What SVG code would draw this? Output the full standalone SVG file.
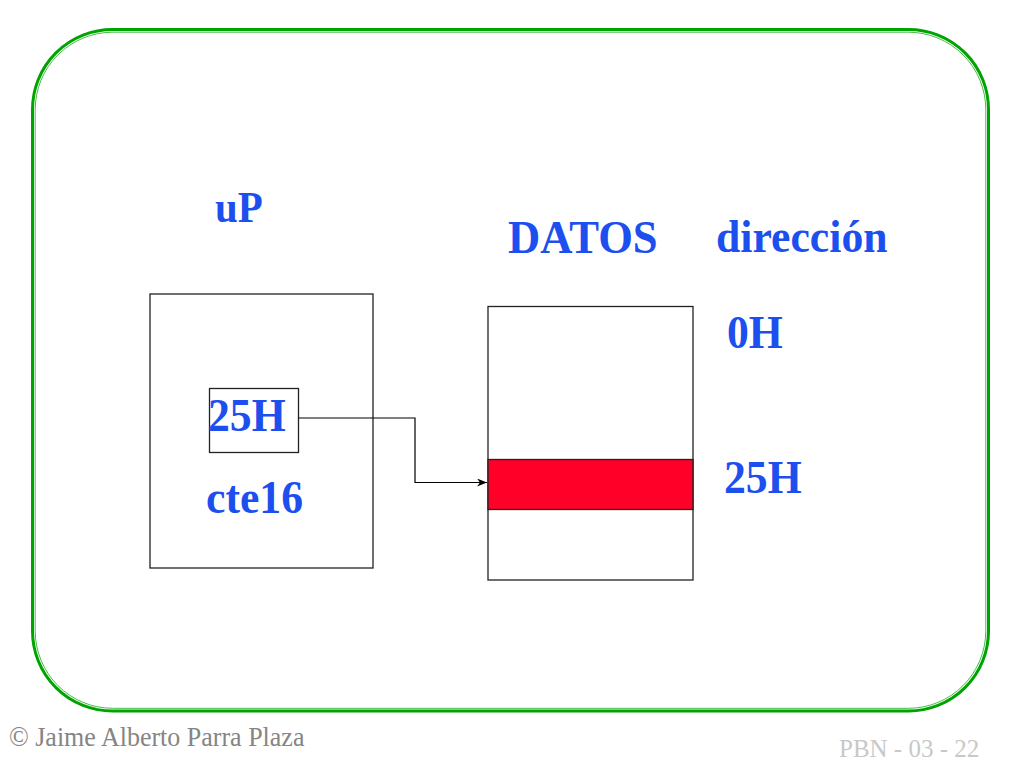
<svg xmlns="http://www.w3.org/2000/svg" width="1024" height="768" viewBox="0 0 1024 768">
<style>
.lbl{font-family:"Liberation Serif","Times New Roman",serif;font-weight:bold;fill:#1d4fee;font-size:47px}
.box{fill:none;stroke:#222;stroke-width:1.3}
.conn{fill:none;stroke:#000;stroke-width:1.2}
.foot{font-family:"Liberation Serif","Times New Roman",serif;font-size:25px}
</style>
<defs>
<marker id="arr" viewBox="0 0 10 8" refX="10" refY="4" markerWidth="10" markerHeight="8" markerUnits="userSpaceOnUse" orient="auto">
<path d="M0,0 L10,4 L0,8 L3,4 Z" fill="#000"/>
</marker>
</defs>
<rect width="1024" height="768" fill="#fff"/>
<g id="frame">
<rect x="32.5" y="29.5" width="956" height="681.5" rx="80" ry="80" fill="none" stroke="#00a400" stroke-width="3"/>
<rect x="35.2" y="32.2" width="950.6" height="676.1" rx="77.5" ry="77.5" fill="none" stroke="#2fb52f" stroke-width="0.9"/>
</g>
<g id="uP">
<text class="lbl" transform="translate(215,222) scale(0.93,1)" style="font-size:44px">uP</text>
<rect class="box" x="150" y="294" width="223" height="274"/>
</g>
<g id="reg">
<rect class="box" x="209.5" y="388.5" width="89" height="64"/>
<text class="lbl" transform="translate(208,431) scale(0.93,1)">25H</text>
</g>
<g id="cte16">
<text class="lbl" transform="translate(206,513) scale(0.93,1)">cte16</text>
</g>
<g id="datos">
<text class="lbl" transform="translate(508,253) scale(0.95,1)">DATOS</text>
<rect class="box" x="488" y="306.5" width="205" height="273.5"/>
</g>
<g id="cell25">
<rect x="488" y="459.5" width="205" height="50" fill="#ff0029" stroke="#222" stroke-width="1.3"/>
</g>
<g id="labels">
<text class="lbl" transform="translate(716,252) scale(0.93,1)">dirección</text>
<text class="lbl" transform="translate(727,348) scale(0.93,1)">0H</text>
<text class="lbl" transform="translate(724,493) scale(0.93,1)">25H</text>
</g>
<g id="connectors">
<polyline class="conn" points="298.5,418 415,418 415,482.5 487,482.5" marker-end="url(#arr)"/>
</g>
<g id="footer">
<text class="foot" transform="translate(9,746) scale(1,1.04)" style="font-size:26px" fill="#858585">© Jaime Alberto Parra Plaza</text>
<text class="foot" transform="translate(839,757) scale(1,1.04)" fill="#c8c8c8">PBN - 03 - 22</text>
</g>
</svg>
